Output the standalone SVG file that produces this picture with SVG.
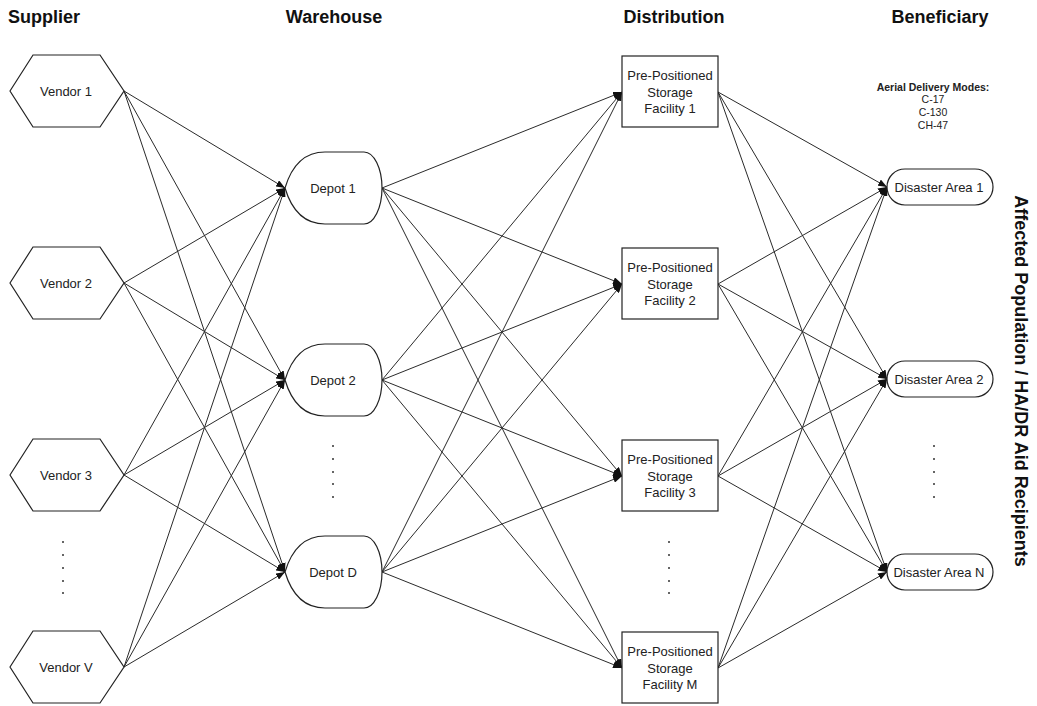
<svg xmlns="http://www.w3.org/2000/svg" width="1037" height="706" viewBox="0 0 1037 706">
<style>
text{font-family:"Liberation Sans",Arial,sans-serif;fill:#222}
.h{font-size:18px;font-weight:bold;fill:#111;text-anchor:middle}
.lbl{font-size:13px;text-anchor:middle}
.shape{fill:#fff;stroke:#222;stroke-width:1.2}
.c{stroke:#2a2a2a;stroke-width:1;fill:none;marker-end:url(#arr)}
.dot{fill:#666}
.small{font-size:10.5px;text-anchor:middle}
</style>
<defs>
<marker id="arr" markerUnits="userSpaceOnUse" markerWidth="9" markerHeight="7" refX="9" refY="3.5" orient="auto"><path d="M0,0 L9,3.5 L0,7 z" fill="#111"/></marker>
</defs>
<rect width="1037" height="706" fill="#fff"/>
<g id="headers">
<text class="h" x="44" y="23">Supplier</text>
<text class="h" x="334" y="23">Warehouse</text>
<text class="h" x="674" y="23">Distribution</text>
<text class="h" x="940" y="23">Beneficiary</text>
<text class="h" transform="translate(1015,381) rotate(90)" x="0" y="0">Affected Population / HA/DR Aid Recipients</text>
</g>
<g id="connectors">
<line class="c" x1="124" y1="91" x2="285" y2="188"/>
<line class="c" x1="124" y1="91" x2="285" y2="380"/>
<line class="c" x1="124" y1="91" x2="285" y2="572"/>
<line class="c" x1="124" y1="283" x2="285" y2="188"/>
<line class="c" x1="124" y1="283" x2="285" y2="380"/>
<line class="c" x1="124" y1="283" x2="285" y2="572"/>
<line class="c" x1="124" y1="475" x2="285" y2="188"/>
<line class="c" x1="124" y1="475" x2="285" y2="380"/>
<line class="c" x1="124" y1="475" x2="285" y2="572"/>
<line class="c" x1="124" y1="667" x2="285" y2="188"/>
<line class="c" x1="124" y1="667" x2="285" y2="380"/>
<line class="c" x1="124" y1="667" x2="285" y2="572"/>
<line class="c" x1="382" y1="188" x2="622" y2="92"/>
<line class="c" x1="382" y1="188" x2="622" y2="284"/>
<line class="c" x1="382" y1="188" x2="622" y2="476"/>
<line class="c" x1="382" y1="188" x2="622" y2="668"/>
<line class="c" x1="382" y1="380" x2="622" y2="92"/>
<line class="c" x1="382" y1="380" x2="622" y2="284"/>
<line class="c" x1="382" y1="380" x2="622" y2="476"/>
<line class="c" x1="382" y1="380" x2="622" y2="668"/>
<line class="c" x1="382" y1="572" x2="622" y2="92"/>
<line class="c" x1="382" y1="572" x2="622" y2="284"/>
<line class="c" x1="382" y1="572" x2="622" y2="476"/>
<line class="c" x1="382" y1="572" x2="622" y2="668"/>
<line class="c" x1="718" y1="92" x2="887" y2="187"/>
<line class="c" x1="718" y1="92" x2="887" y2="379"/>
<line class="c" x1="718" y1="92" x2="887" y2="572"/>
<line class="c" x1="718" y1="284" x2="887" y2="187"/>
<line class="c" x1="718" y1="284" x2="887" y2="379"/>
<line class="c" x1="718" y1="284" x2="887" y2="572"/>
<line class="c" x1="718" y1="476" x2="887" y2="187"/>
<line class="c" x1="718" y1="476" x2="887" y2="379"/>
<line class="c" x1="718" y1="476" x2="887" y2="572"/>
<line class="c" x1="718" y1="668" x2="887" y2="187"/>
<line class="c" x1="718" y1="668" x2="887" y2="379"/>
<line class="c" x1="718" y1="668" x2="887" y2="572"/>
</g>
<g id="vendor1"><polygon class="shape" points="10,91 33,55 100,55 124,91 100,127 33,127"/><text class="lbl" x="66" y="95.5">Vendor 1</text></g>
<g id="vendor2"><polygon class="shape" points="10,283 33,247 100,247 124,283 100,319 33,319"/><text class="lbl" x="66" y="287.5">Vendor 2</text></g>
<g id="vendor3"><polygon class="shape" points="10,475 33,439 100,439 124,475 100,511 33,511"/><text class="lbl" x="66" y="479.5">Vendor 3</text></g>
<g id="vendorV"><polygon class="shape" points="10,667 33,631 100,631 124,667 100,703 33,703"/><text class="lbl" x="66" y="671.5">Vendor V</text></g>
<g id="depot1"><path class="shape" d="M285,188 C291,168 302,152 325,152 L364,152 A18,36 0 0 1 364,224 L325,224 C302,224 291,208 285,188 Z"/><text class="lbl" x="333" y="192.5">Depot 1</text></g>
<g id="depot2"><path class="shape" d="M285,380 C291,360 302,344 325,344 L364,344 A18,36 0 0 1 364,416 L325,416 C302,416 291,400 285,380 Z"/><text class="lbl" x="333" y="384.5">Depot 2</text></g>
<g id="depotD"><path class="shape" d="M285,572 C291,552 302,536 325,536 L364,536 A18,36 0 0 1 364,608 L325,608 C302,608 291,592 285,572 Z"/><text class="lbl" x="333" y="576.5">Depot D</text></g>
<g id="facility1"><rect class="shape" x="622" y="56" width="96" height="71"/><text class="lbl" x="670" y="80">Pre-Positioned</text><text class="lbl" x="670" y="96.5">Storage</text><text class="lbl" x="670" y="113">Facility 1</text></g>
<g id="facility2"><rect class="shape" x="622" y="248" width="96" height="71"/><text class="lbl" x="670" y="272">Pre-Positioned</text><text class="lbl" x="670" y="288.5">Storage</text><text class="lbl" x="670" y="305">Facility 2</text></g>
<g id="facility3"><rect class="shape" x="622" y="440" width="96" height="71"/><text class="lbl" x="670" y="464">Pre-Positioned</text><text class="lbl" x="670" y="480.5">Storage</text><text class="lbl" x="670" y="497">Facility 3</text></g>
<g id="facilityM"><rect class="shape" x="622" y="632" width="96" height="71"/><text class="lbl" x="670" y="656">Pre-Positioned</text><text class="lbl" x="670" y="672.5">Storage</text><text class="lbl" x="670" y="689">Facility M</text></g>
<g id="area1"><rect class="shape" x="887" y="169" width="106" height="36" rx="18" ry="18"/><text class="lbl" x="939" y="191.5">Disaster Area 1</text></g>
<g id="area2"><rect class="shape" x="887" y="361" width="106" height="36" rx="18" ry="18"/><text class="lbl" x="939" y="383.5">Disaster Area 2</text></g>
<g id="areaN"><rect class="shape" x="887" y="554" width="106" height="36" rx="18" ry="18"/><text class="lbl" x="939" y="576.5">Disaster Area N</text></g>
<g id="aerial">
<text class="small" x="933" y="91" font-weight="bold">Aerial Delivery Modes:</text>
<text class="small" x="933" y="103">C-17</text>
<text class="small" x="933" y="116">C-130</text>
<text class="small" x="933" y="129">CH-47</text>
</g>
<g id="ellipses">
<rect class="dot" x="62" y="541" width="2" height="2"/><rect class="dot" x="62" y="554" width="2" height="2"/><rect class="dot" x="62" y="567" width="2" height="2"/><rect class="dot" x="62" y="580" width="2" height="2"/><rect class="dot" x="62" y="592" width="2" height="2"/>
<rect class="dot" x="332" y="445" width="2" height="2"/><rect class="dot" x="332" y="458" width="2" height="2"/><rect class="dot" x="332" y="471" width="2" height="2"/><rect class="dot" x="332" y="483" width="2" height="2"/><rect class="dot" x="332" y="496" width="2" height="2"/>
<rect class="dot" x="668" y="541" width="2" height="2"/><rect class="dot" x="668" y="554" width="2" height="2"/><rect class="dot" x="668" y="567" width="2" height="2"/><rect class="dot" x="668" y="580" width="2" height="2"/><rect class="dot" x="668" y="592" width="2" height="2"/>
<rect class="dot" x="933" y="445" width="2" height="2"/><rect class="dot" x="933" y="458" width="2" height="2"/><rect class="dot" x="933" y="471" width="2" height="2"/><rect class="dot" x="933" y="483" width="2" height="2"/><rect class="dot" x="933" y="496" width="2" height="2"/>
</g>
</svg>
